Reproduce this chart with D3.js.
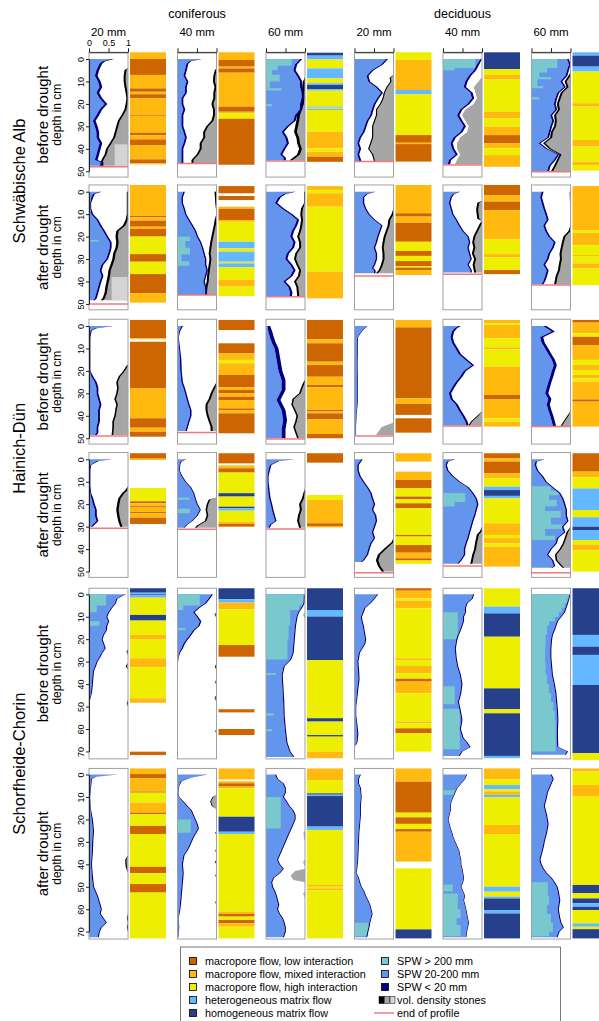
<!DOCTYPE html>
<html>
<head>
<meta charset="utf-8">
<script src="https://cdn.jsdelivr.net/npm/d3@7"></script>
<style>
body { margin: 0; background: #fff; }
text { font-family: "Liberation Sans", Arial, sans-serif; fill: #000; }
</style>
</head>
<body>
<svg width="599" height="1021"></svg>
<script>
var sites = ["Schwäbische Alb", "Hainich-Dün", "Schorfheide-Chorin"];
var states = ["before drought", "after drought"];
var forests = ["coniferous", "deciduous"];
var rainfall = ["20 mm", "40 mm", "60 mm"];

// flow type classes: L low, M mixed, H high interaction, E heterogeneous, O homogeneous
var flowNames = {
  L: "macropore flow, low interaction",
  M: "macropore flow, mixed interaction",
  H: "macropore flow, high interaction",
  E: "heterogeneous matrix flow",
  O: "homogeneous matrix flow"
};
var flowColors = { L: "#CD6600", M: "#FFB90F", H: "#EEEE00", E: "#63B8FF", O: "#27408B" };

// panels ordered row by row (site x drought state), columns: con 20/40/60, dec 20/40/60
// stained fraction SPW 20-200 mm (depth cm, fraction)
var spwEdge = [
  [[0,.57],[1,.35],[2,.27],[5,.19],[7.5,.15],[10,.23],[12.5,.27],[15,.19],[17.5,.27],[20,.4],[22.5,.27],[25,.19],[27.5,.1],[30,.15],[32.5,.19],[35,.19],[37.5,.27],[40,.23],[42.5,.19],[45,.15],[46,.3],[47.6,.3]],
  [[0,.57],[1,.3],[2,.23],[5,.19],[7.5,.15],[10,.23],[12.5,.19],[15,.19],[17.5,.1],[20,.1],[22.5,.15],[25,.1],[27.5,.1],[30,.1],[32.5,.15],[35,.19],[37.5,.15],[40,.1],[42.5,.1],[45,.1],[46.3,.1]],
  [[0,.87],[2.5,.74],[5,.7],[7.5,.79],[10,.87],[12.5,.87],[15,.91],[17.5,.91],[20,.87],[22.5,.87],[25,.74],[27.5,.7],[30,.53],[32.5,.4],[35,.49],[37.5,.53],[40,.44],[42.5,.36],[44,.45],[45.2,.45]],
  [[0,.81],[2.5,.68],[5,.44],[7.5,.31],[10,.35],[12.5,.54],[15,.68],[17.5,.58],[20,.49],[22.5,.44],[25,.4],[27.5,.31],[30,.26],[32.5,.21],[35,.12],[37.5,.07],[40,.12],[42.5,.07],[45,.12],[45.6,.12]],
  [[0,.96],[2.5,.87],[5,.79],[7.5,.66],[10,.57],[12.5,.53],[15,.7],[17.5,.74],[20,.62],[22.5,.44],[25,.36],[27.5,.44],[30,.53],[32.5,.44],[35,.27],[37.5,.19],[40,.23],[42.5,.32],[45,.15],[47,.12]],
  [[0,.91],[2.5,.96],[5,.91],[7.5,.87],[10,.74],[12.5,.83],[15,.66],[17.5,.61],[20,.57],[22.5,.61],[25,.48],[27.5,.53],[30,.48],[32.5,.44],[35,.4],[37.5,.18],[40,.36],[42.5,.66],[45,.57],[47.5,.44],[50,.4]],

  [[0,.27],[1,.1],[2.5,.06],[5,.03],[7.5,.03],[10,.06],[12.5,.19],[15,.27],[17.5,.36],[20,.44],[22.5,.53],[25,.53],[27.5,.49],[30,.44],[32.5,.32],[35,.27],[37.5,.32],[40,.27],[42.5,.23],[45,.19],[47.5,.15],[48.3,.1]],
  [[0,.15],[2.5,.1],[5,.1],[7.5,.15],[10,.19],[12.5,.27],[15,.36],[17.5,.44],[20,.49],[22.5,.57],[25,.62],[27.5,.66],[30,.7],[32.5,.7],[35,.74],[37.5,.7],[40,.66],[42.5,.7],[45,.72],[46,.7]],
  [[0,.7],[1,.45],[2.5,.32],[5,.23],[7.5,.4],[10,.62],[12.5,.79],[15,.74],[17.5,.66],[20,.62],[22.5,.7],[25,.66],[27.5,.53],[30,.49],[32.5,.62],[35,.7],[37.5,.62],[40,.44],[42.5,.57],[45,.62],[46.5,.6]],
  [[0,.49],[1,.3],[2.5,.21],[5,.21],[7.5,.26],[10,.35],[12.5,.49],[15,.68],[17.5,.63],[20,.58],[22.5,.54],[25,.49],[27.5,.54],[30,.54],[32.5,.49],[34,.44],[35,.5],[36.3,.5]],
  [[0,.4],[1,.25],[2.5,.19],[5,.15],[7.5,.19],[10,.23],[12.5,.32],[15,.4],[17.5,.49],[20,.62],[22.5,.66],[25,.62],[27.5,.66],[30,.7],[32.5,.62],[35,.7],[36,.7]],
  [[0,.26],[2.5,.22],[5,.26],[7.5,.3],[10,.35],[12.5,.39],[15,.3],[17.5,.35],[20,.43],[22.5,.57],[25,.52],[27.5,.43],[30,.39],[32.5,.3],[35,.39],[37.5,.35],[40,.3],[41.3,.25]],

  [[0,.57],[1,.15],[2,.04],[5,.02],[20,.02],[22.5,.06],[25,.15],[27.5,.19],[30,.19],[32.5,.23],[35,.27],[37.5,.23],[40,.23],[42.5,.23],[45,.19],[47.5,.19],[48.6,.15]],
  [[0,.1],[2.5,.04],[5,.02],[10,.04],[15,.06],[20,.07],[25,.1],[27.5,.15],[30,.19],[32.5,.23],[35,.27],[37.5,.32],[40,.32],[42.5,.27],[45,.23],[46.8,.2]],
  [[0,.04],[2.5,.06],[5,.1],[7.5,.15],[10,.22],[15,.27],[20,.32],[24,.4],[28.5,.4],[33,.27],[37.5,.4],[42,.44],[46,.4],[50,.4]],
  [[0,.31],[1,.25],[2.5,.17],[5,.07],[10,.07],[15,.06],[20,.06],[25,.07],[30,.07],[35,.06],[40,.04],[45,.03],[48.5,.03]],
  [[0,.4],[1,.3],[2.5,.23],[5,.19],[7.5,.23],[10,.32],[12.5,.4],[15,.57],[17.5,.74],[20,.53],[22.5,.44],[25,.32],[27.5,.23],[30,.15],[32.5,.19],[35,.32],[37.5,.4],[40,.49],[42.5,.57],[44.3,.6]],
  [[0,.3],[2.5,.52],[5,.22],[7.5,.26],[10,.35],[12.5,.43],[15,.52],[17.5,.57],[20,.52],[22.5,.48],[25,.43],[27.5,.39],[30,.35],[32.5,.43],[35,.39],[37.5,.43],[40,.48],[42.5,.52],[44.5,.55]],

  [[0,.53],[0.8,.2],[2.5,.03],[5,.02],[12,.02],[15,.03],[17.5,.06],[20,.1],[22.5,.15],[25,.15],[27.5,.19],[29,.1],[30,.05]],
  [[0,.19],[1,.08],[2,.05],[5,.04],[7.5,.1],[10,.19],[12.5,.32],[15,.4],[17.5,.44],[20,.49],[22.5,.57],[25,.49],[27.5,.36],[29,.23],[30.5,.15]],
  [[0,.7],[0.8,.3],[2.5,.1],[5,.06],[7.5,.04],[10,.04],[15,.06],[17.5,.08],[20,.12],[22.5,.15],[25,.19],[27.5,.23],[29,.1],[30.5,.06]],
  [[0,.17],[2.5,.07],[5,.07],[7.5,.12],[10,.21],[12.5,.31],[15,.4],[17.5,.44],[20,.49],[22.5,.44],[25,.52],[27.5,.54],[30,.49],[32.5,.44],[35,.49],[37.5,.4],[40,.35],[42.5,.31],[45,.21],[45.8,.15]],
  [[0,.27],[1,.1],[2.5,.06],[5,.1],[7.5,.23],[10,.4],[12.5,.62],[15,.74],[17.5,.83],[20,.87],[22.5,.83],[25,.79],[27.5,.74],[30,.7],[32.5,.66],[35,.62],[37.5,.57],[40,.53],[42.5,.53],[45,.44],[46.5,.36]],
  [[0,.3],[1,.1],[2.5,.08],[5,.13],[7.5,.26],[10,.35],[12.5,.52],[15,.7],[17.5,.78],[20,.83],[22.5,.87],[25,.87],[27.5,.91],[30,.78],[32.5,.83],[35,.65],[37.5,.61],[40,.48],[42.5,.39],[45,.52],[47.5,.57],[48.3,.5]],

  [[0,.91],[2,.7],[4,.66],[6,.57],[8,.49],[10,.44],[12,.49],[14,.44],[16,.43],[18,.36],[20,.32],[22,.36],[24,.4],[26,.32],[28,.26],[30,.19],[32,.15],[34,.1],[36,.09],[38,.08],[40,.07],[42,.06],[44,.05],[46,.03],[48,.01]],
  [[0,.87],[2,.79],[4,.7],[6,.53],[8,.4],[10,.49],[12,.57],[14,.53],[16,.4],[18,.32],[20,.23],[22,.15],[24,.1],[26,.04],[28,.02],[30,.01]],
  [[0,.98],[4,.96],[6,.9],[8,.82],[10,.78],[14,.74],[18,.72],[22,.7],[26,.68],[29,.62],[32,.45],[36,.4],[42,.42],[48,.44],[54,.45],[60,.48],[66,.52],[70,.6],[72.5,.7]],
  [[0,.58],[2,.49],[4,.39],[6,.25],[8,.21],[10,.16],[12,.18],[14,.21],[16,.23],[18,.25],[20,.27],[22,.25],[24,.18],[26,.11],[28,.09],[30,.07],[34,.09],[38,.1],[42,.07],[46,.05],[50,.03],[54,.03],[58,.05],[62,.07],[66,.05],[67.5,.02]],
  [[0,.77],[2,.73],[4,.6],[6,.56],[8,.56],[10,.51],[12,.51],[14,.47],[16,.43],[18,.38],[20,.34],[24,.3],[28,.32],[32,.36],[36,.43],[40,.47],[44,.44],[48,.38],[52,.43],[56,.47],[60,.43],[64,.5],[66,.6],[68,.68],[70,.47],[72,.4]],
  [[0,.98],[4,.91],[8,.83],[10,.74],[12,.65],[14,.61],[16,.57],[18,.52],[20,.5],[24,.48],[28,.48],[32,.5],[36,.52],[40,.57],[44,.61],[48,.63],[52,.65],[56,.66],[60,.65],[64,.65],[68,.66],[70,.91],[71.5,.85]],

  [[0,.7],[1,.15],[2,.05],[10,.02],[15,.03],[20,.07],[25,.1],[30,.08],[35,.07],[40,.05],[45,.07],[50,.1],[54,.2],[58,.27],[60,.3],[62,.27],[64,.35],[66,.43],[68,.3],[70,.25],[72.5,.22]],
  [[0,.74],[1.5,.3],[3,.08],[5,.03],[8,.02],[10,.03],[12,.13],[14,.23],[16,.34],[18,.39],[20,.44],[22,.49],[24,.52],[26,.46],[28,.39],[30,.34],[32,.29],[34,.23],[36,.15],[40,.11],[44,.13],[48,.11],[52,.09],[56,.07],[60,.05],[64,.02],[68,.03],[72.5,.02]],
  [[0,.23],[2,.28],[4,.43],[6,.48],[8,.48],[10,.43],[12,.51],[14,.58],[16,.68],[18,.73],[20,.73],[22,.68],[24,.63],[26,.58],[28,.53],[30,.48],[32,.43],[34,.38],[36,.33],[38,.28],[40,.33],[42,.43],[44,.33],[46,.18],[48,.13],[50,.15],[52,.21],[54,.25],[56,.28],[58,.31],[60,.28],[62,.33],[64,.41],[66,.45],[68,.48],[70,.48],[72.5,.43]],
  [[0,.14],[2,.09],[4,.09],[6,.14],[10,.16],[14,.14],[18,.14],[22,.12],[26,.1],[30,.09],[34,.08],[38,.07],[42,.05],[44,.04],[46,.09],[48,.12],[50,.16],[52,.23],[54,.27],[56,.33],[58,.38],[60,.41],[62,.44],[64,.41],[66,.38],[68,.36],[70,.33],[72.5,.3]],
  [[0,.6],[2,.55],[4,.45],[6,.35],[8,.3],[10,.25],[12,.2],[14,.18],[16,.18],[18,.15],[20,.12],[22,.15],[24,.18],[26,.22],[28,.25],[30,.3],[32,.35],[34,.4],[36,.42],[38,.45],[40,.45],[42,.48],[44,.5],[46,.52],[48,.5],[50,.45],[52,.5],[54,.55],[56,.52],[58,.55],[60,.58],[62,.6],[64,.62],[66,.65],[68,.62],[70,.6],[72.5,.58]],
  [[0,.49],[2,.54],[4,.49],[6,.44],[8,.39],[10,.37],[12,.34],[14,.31],[16,.34],[18,.37],[20,.39],[22,.41],[24,.39],[26,.37],[28,.34],[30,.31],[32,.29],[34,.26],[36,.23],[38,.2],[40,.23],[42,.29],[44,.37],[46,.49],[48,.57],[50,.64],[52,.67],[54,.69],[56,.71],[58,.69],[60,.67],[62,.69],[64,.71],[66,.74],[68,.8],[70,.69],[72.5,.64]]
];

// SPW > 200 mm, stepwise (value holds from depth to next depth)
var tealEdge = [
  null, null,
  [[0,.66],[3,.3],[5,.15],[7,.35],[10,.1],[13,.4],[14,0],[20,.15],[21,0]],
  null,
  [[0,.83],[4,.3],[5,0]],
  [[0,.66],[4,.4],[6,.2],[8,.5],[9,.15],[12,.3],[13,0],[17,.2],[18,0]],
  [[0,0],[21.5,.25],[22.2,0]],
  [[0,0],[20,.32],[22,.2],[25,.32],[28,.1],[31,.3],[33,0]],
  null, null, null, null,
  null, null, null, null, null, null,
  null,
  [[0,0],[17,.3],[18,0],[22,.32],[24,0]],
  null, null,
  [[0,0],[15,.57],[19,.3],[21,0]],
  [[0,0],[12,.5],[14,.7],[16,.45],[18,.65],[21,.35],[23,.75],[26,.5],[29,.8],[31,.35],[34,.6],[36,0]],
  [[0,.44],[5,.2],[8,0],[12,.27],[14,0]],
  [[0,.57],[5,.15],[7,0],[15,.2],[16,0]],
  [[0,.95],[5,.85],[7,.62],[14,.58],[20,.55],[29,0],[35,.25],[36,0],[53,.2],[54,0],[60,.15],[61,0]],
  null,
  [[0,0],[8,.38],[20,0],[41,.3],[49,0],[51,.43],[69,0]],
  [[0,.95],[2,.92],[4,.85],[6,.78],[8,.7],[10,.6],[12,.45],[14,.4],[18,.36],[24,.35],[30,.36],[36,.4],[40,.45],[44,.5],[48,.56],[52,.6],[56,.62],[68,.62],[70,0]],
  null,
  [[0,0],[20,.34],[26,0]],
  [[0,0],[10,.38],[24,0]],
  [[0,0],[66,.35],[72,0]],
  [[0,0],[7,.3],[9,0],[49,.25],[52,0],[53,.38],[60,.45],[64,.35],[67,.45],[72,0]],
  [[0,0],[48,.42],[54,.45],[58,.4],[62,.5],[66,.55],[70,.45],[72,0]]
];

// SPW < 20 mm band width at the stained front
var navyWidth = [
  .07, .05, .06, .05, .06, .05,
  .05, .04, .06, .04, .04, .05,
  .05, .04, .1, .02, .06, .08,
  .05, .03, .04, .04, .04, .04,
  .03, .04, .03, .03, .03, .03,
  .03, .03, .03, .025, .02, .03
];

// left edge of stones (fraction from left, 1 = no stones)
var stoneEdge = [
  [[0,1],[4,1],[5,.91],[7.5,.89],[10,.89],[12.5,.91],[15,.94],[17.5,.96],[20,.94],[22.5,.91],[25,.83],[27.5,.74],[30,.7],[32.5,.66],[35,.62],[37.5,.53],[40,.44],[42.5,.4],[45,.32],[46,.3],[47.6,.25]],
  [[0,1],[4,1],[5,.96],[7.5,.92],[10,.91],[12.5,.95],[15,.92],[17.5,.92],[20,.87],[22.5,.91],[25,.91],[27.5,.87],[30,.74],[32.5,.66],[35,.66],[37.5,.57],[40,.57],[42.5,.49],[45,.36],[46.3,.36]],
  [[0,1],[8,1],[10,.95],[12.5,.93],[15,.92],[17.5,.92],[20,.9],[22.5,.85],[25,.8],[27.5,.78],[30,.75],[32.5,.72],[35,.78],[37.5,.8],[40,.85],[42.5,.8],[45.2,.6]],
  [[0,1],[7,1],[8.5,.9],[10,.92],[12.5,.82],[15,.75],[17.5,.72],[20,.65],[22.5,.55],[25,.55],[27.5,.5],[30,.45],[32.5,.45],[35,.45],[37.5,.4],[40,.35],[42.5,.45],[45.6,.5]],
  [[0,1],[8,1],[10,.91],[12.5,.79],[15,.83],[17.5,.87],[20,.79],[22.5,.57],[25,.49],[27.5,.57],[30,.66],[32.5,.62],[35,.44],[37.5,.36],[40,.36],[42.5,.44],[45,.36],[47,.3]],
  [[0,1],[6,1],[7.5,.95],[10,.85],[12.5,.9],[15,.75],[17.5,.7],[20,.65],[22.5,.68],[25,.58],[27.5,.6],[30,.58],[32.5,.5],[35,.48],[37.5,.3],[40,.45],[42.5,.72],[45,.65],[47.5,.58],[50,.5]],

  [[0,.97],[10,.97],[12.5,.94],[15,.87],[17.5,.7],[20,.68],[22.5,.7],[25,.68],[27.5,.62],[30,.6],[32.5,.55],[35,.5],[37.5,.48],[40,.45],[42.5,.42],[45,.4],[47.5,.35],[48.3,.3]],
  [[0,.95],[5,.97],[10,1],[12,.96],[15,.93],[17.5,.9],[20,.87],[22.5,.84],[25,.82],[27.5,.8],[30,.82],[32.5,.8],[35,.78],[37.5,.76],[40,.75],[42.5,.72],[46,.7]],
  [[0,.98],[5,.98],[7.5,.9],[10,.88],[12.5,.9],[15,.88],[17.5,.85],[20,.8],[22.5,.85],[25,.85],[27.5,.75],[30,.72],[32.5,.78],[35,.85],[37.5,.82],[40,.72],[42.5,.78],[46.5,.8]],
  [[0,1],[7.5,1],[10,.95],[12.5,.87],[15,.85],[17.5,.8],[20,.75],[22.5,.72],[25,.7],[27.5,.72],[30,.72],[32.5,.68],[35,.62],[36.3,.55]],
  [[0,1],[4,1],[5,.88],[8,.85],[12,.88],[13,1],[14,.95],[15,.92],[17.5,.85],[20,.78],[22.5,.75],[25,.78],[27.5,.74],[30,.8],[32.5,.76],[36,.8]],
  [[0,.98],[15,1],[17.5,.95],[20,.82],[22.5,.78],[25,.75],[27.5,.72],[30,.73],[32.5,.7],[35,.68],[37.5,.62],[41.3,.58]],

  [[0,1],[17,1],[18,.95],[20,.88],[22.5,.76],[25,.7],[27.5,.72],[30,.7],[32.5,.65],[35,.7],[37.5,.67],[40,.65],[42.5,.6],[45,.6],[48.6,.58]],
  [[0,1],[25,1],[27.5,.92],[30,.85],[32.5,.8],[35,.72],[37.5,.72],[40,.75],[42.5,.8],[45,.85],[46.8,.85]],
  [[0,1],[24,1],[25,.96],[27.5,.9],[30,.85],[32.5,.68],[35,.65],[37.5,.72],[40,.78],[42.5,.75],[45,.7],[47.5,.75],[50,.8]],
  [[0,1],[43,1],[44,.85],[45,.7],[48.5,.55]],
  [[0,1],[38,1],[40,.88],[42.5,.72],[44.3,.65]],
  [[0,1],[38,1],[40,.92],[42.5,.82],[44.5,.75]],

  [[0,1],[12,1],[14,.92],[15,.85],[17.5,.75],[20,.72],[22.5,.7],[25,.72],[27.5,.75],[30,.8]],
  [[0,1],[17,1],[18,.8],[20,.75],[22.5,.72],[25,.75],[27.5,.7],[29.5,.5],[30.5,.45]],
  [[0,1],[13,1],[15,.96],[17.5,.92],[20,.85],[22.5,.87],[25,.82],[27.5,.8],[30.5,.85]],
  [[0,1],[35,1],[37,.95],[40,.75],[42.5,.6],[45,.55],[47.5,.6],[50,.7]],
  [[0,1],[30,1],[32,.95],[33.5,.87],[35,.85],[37.5,.82],[40,.8],[42.5,.75],[45,.72],[46.5,.7]],
  [[0,1],[30,1],[32.5,.9],[35,.85],[37.5,.8],[40,.72],[42.5,.6],[45,.62],[47.5,.75],[48.3,.8]],

  [[0,1],[24.5,1],[25.5,.96],[27,1],[30.5,1],[32,.94],[33.5,1],[47,1],[48.5,.97],[50,1]],
  [[0,1],[8,1],[9,.95],[10.5,1],[31,1],[32,.96],[34,1],[38,1],[39,.97],[41,1],[45,1],[46,.95],[48,1],[60,1],[61,.97],[62,1]],
  [[0,1],[8,1],[9,.95],[11,1]],
  [[0,1]],
  [[0,1]],
  [[0,1]],

  [[0,1],[36,1],[38,.93],[41,.94],[44,1],[62,1],[64,.97],[66,1],[68,.97],[70,1]],
  [[0,1],[9,1],[10,.9],[12,.84],[14,.88],[15.5,1],[25,1],[26,.97],[27,1],[33,1],[34,.97],[35,1],[38,1],[39,.96],[40,1],[44,1],[45,.97],[46,1],[56,1],[57,.97],[58,1]],
  [[0,1],[25,1],[26,.96],[28,.97],[30,1],[38,1],[39,.95],[41,1],[42,1],[43,.75],[45,.63],[47,.7],[48,1],[52,1],[53,.95],[55,1]],
  [[0,1]],
  [[0,1]],
  [[0,1]]
];

// width of the densest (black) stone class at the stone edge
var blackWidth = [
  .05, .05, .07, .03, 0, .05,
  .06, .05, .05, .05, .05, .05,
  .04, .05, .04, 0, .03, .03,
  .06, .04, .05, .06, .05, .04,
  .03, .02, 0, 0, 0, 0,
  .03, .02, 0, 0, 0, 0
];

// low density stones: [from depth, to depth, left edge]
var lightStone = [
  [38, 47.6, .66], null, null, null, null, null,
  [38, 48.3, .58], null, null, null, null, null,
  null, null, null, null, null, null,
  null, null, null, null, null, null,
  null, null, null, null, null, null,
  null, null, null, null, null, null
];

// depth of the end of profile (red line)
var profileEnd = [
  48, 46.5, 45.4, 45.7, 47.2, 50.2,
  50, 46, 46.8, 37.5, 36.8, 41.6,
  49, 47.4, 50.3, 49, 44.5, 44.8,
  30.7, 31.2, 31, 50.5, 47.5, 50.5,
  null, null, null, null, null, null,
  null, null, null, null, null, null
];

// flow type bands: [top cm, bottom cm, class]
var flowBands = [
  [[-3,0,"M"],[0,7.1,"L"],[7.1,13.1,"M"],[13.1,14.6,"L"],[14.6,15.7,"M"],[15.7,17.5,"L"],[17.5,24.9,"M"],[24.9,25.3,"L"],[25.3,32.8,"M"],[32.8,33.9,"L"],[33.9,35.8,"M"],[35.8,38.3,"L"],[38.3,44.7,"M"],[44.7,46.5,"L"],[46.5,46.9,"M"]],
  [[-3,.45,"M"],[.45,3.4,"L"],[3.4,4.2,"M"],[4.2,6.1,"L"],[6.1,21.2,"M"],[21.2,23.5,"L"],[23.5,24.2,"M"],[24.2,26.6,"H"],[26.6,47.1,"L"]],
  [[-2.8,-1.5,"O"],[-1.5,.2,"E"],[.2,4.2,"H"],[4.2,8.6,"E"],[8.6,10.8,"H"],[10.8,11.6,"E"],[11.6,13.5,"O"],[13.5,14.1,"E"],[14.1,21.2,"H"],[21.2,21.7,"E"],[21.7,22.2,"H"],[22.2,22.7,"E"],[22.7,32.4,"H"],[32.4,39.8,"M"],[39.8,41.3,"H"],[41.3,43.5,"M"],[43.5,45.8,"L"]],
  [[-3,.4,"H"],[.4,13.8,"M"],[13.8,15.7,"E"],[15.7,33.9,"H"],[33.9,37.3,"L"],[37.3,37.9,"M"],[37.9,45.7,"L"]],
  [[-3,4.5,"O"],[4.5,7.1,"H"],[7.1,9.1,"M"],[9.1,23.5,"H"],[23.5,26.4,"M"],[26.4,30.1,"H"],[30.1,33.9,"M"],[33.9,37.6,"L"],[37.6,39.8,"M"],[39.8,42.8,"H"],[42.8,48,"M"]],
  [[-3,-1.5,"E"],[-1.5,3.4,"O"],[3.4,5.6,"E"],[5.6,19.7,"H"],[19.7,21.2,"M"],[21.2,36.1,"H"],[36.1,39,"M"],[39,45.7,"H"],[45.7,47.2,"M"],[47.2,49.7,"H"]],

  [[-3,10.8,"M"],[10.8,11.4,"L"],[11.4,12.9,"M"],[12.9,15.6,"L"],[15.6,16.6,"M"],[16.6,20,"L"],[20,27.8,"H"],[27.8,31.2,"L"],[31.2,36.7,"H"],[36.7,45.3,"L"],[45.3,49.4,"M"]],
  [[-2.5,.7,"L"],[1.9,3.7,"L"],[6.7,7.6,"M"],[7.6,12.6,"L"],[12.6,13.4,"M"],[13.4,22.3,"H"],[22.3,25.2,"E"],[25.2,26.7,"H"],[26.7,31.2,"E"],[31.2,31.9,"H"],[31.9,33.7,"E"],[33.7,39.3,"H"],[39.3,42.3,"M"],[42.3,46.5,"H"]],
  [[-2.5,-.8,"M"],[-.8,.7,"H"],[.7,6.7,"M"],[6.7,35.6,"H"],[35.6,47.5,"M"]],
  [[-3,9.6,"M"],[9.6,11.1,"L"],[11.1,13.8,"M"],[13.8,22.3,"L"],[22.3,26.4,"H"],[26.4,28.6,"L"],[28.6,30.9,"H"],[30.9,33.1,"L"],[33.1,33.8,"H"],[33.8,34.9,"L"],[34.9,37.1,"M"]],
  [[-3,1.5,"L"],[1.5,4.4,"M"],[4.4,8.2,"L"],[8.2,21.2,"M"],[21.2,27.8,"H"],[27.8,29.2,"M"],[29.2,34.9,"H"],[34.9,36.7,"L"]],
  [[-2.5,17.1,"M"],[17.1,18.3,"H"],[18.3,23.8,"M"],[23.8,28.2,"H"],[28.2,28.9,"M"],[28.9,31.9,"H"],[31.9,34.1,"M"],[34.1,41.6,"H"]],

  [[-2.7,5.5,"L"],[5.5,5.9,"M"],[7,27.8,"L"],[27.8,41.1,"M"],[41.1,45.3,"L"],[45.3,47.1,"M"],[47.1,49.3,"L"]],
  [[-2.7,1.8,"L"],[7.7,12.2,"L"],[12.2,15.1,"M"],[15.1,16.6,"H"],[16.6,21.8,"M"],[21.8,27.3,"L"],[27.3,28.5,"M"],[28.5,30,"L"],[30,31.5,"M"],[31.5,33,"L"],[33,36.7,"M"],[36.7,37.4,"L"],[37.4,38.9,"M"],[38.9,47.8,"L"]],
  [[-2.7,5.9,"L"],[5.9,7.7,"M"],[7.7,15.9,"L"],[15.9,17.4,"M"],[17.4,22.6,"L"],[22.6,26.3,"M"],[26.3,27.3,"L"],[27.3,37.4,"M"],[37.4,38.1,"L"],[38.1,38.9,"M"],[38.9,41.6,"L"],[41.6,48.1,"M"],[48.1,50,"L"]],
  [[-2.7,.6,"M"],[.6,32.2,"L"],[32.2,34.7,"M"],[34.7,39.6,"L"],[41.1,47.5,"L"]],
  [[-2.7,-1.2,"M"],[-1.2,-.4,"H"],[-.4,5.5,"M"],[5.5,9.5,"H"],[9.5,10.4,"M"],[10.4,18.1,"H"],[18.1,30.7,"M"],[30.7,32.7,"L"],[32.7,41.1,"M"],[41.1,42.6,"H"],[42.6,44.8,"M"]],
  [[-2.7,-1.5,"L"],[-1.5,3.3,"M"],[3.3,4.8,"H"],[4.8,8.5,"L"],[8.5,15.1,"M"],[15.1,17.4,"H"],[17.4,19.6,"M"],[19.6,21.8,"H"],[21.8,23.3,"M"],[23.3,24.8,"H"],[24.8,32.7,"M"],[32.7,33.7,"L"],[33.7,44.8,"M"]],

  [[-2.7,-.3,"L"],[-.3,.3,"M"],[12.8,18.7,"H"],[18.7,19.6,"L"],[19.6,20.9,"M"],[20.9,21.5,"L"],[21.5,23.5,"M"],[23.5,24.1,"L"],[24.1,26,"M"],[26,28.8,"L"]],
  [[-2.7,1.8,"L"],[2.7,4,"M"],[4,5.9,"L"],[5.9,15.1,"H"],[15.1,16.6,"O"],[16.6,21.1,"H"],[21.1,21.8,"O"],[21.8,22.9,"E"],[22.9,27.8,"H"],[27.8,28.8,"M"],[28.8,30,"L"]],
  [[-2.7,1.5,"L"],[15.9,18.1,"H"],[18.1,28.5,"M"],[28.5,29.7,"L"],[29.7,30.3,"M"]],
  [[-2.7,1,"M"],[5.5,9.2,"M"],[9.2,12.9,"L"],[12.9,16.6,"H"],[16.6,17.7,"L"],[17.7,19.6,"H"],[19.6,21.8,"L"],[21.8,33.7,"H"],[33.7,34.4,"L"],[34.4,38.2,"H"],[38.2,41.6,"L"],[41.6,44.1,"M"],[44.1,45.1,"L"],[45.1,46.6,"H"]],
  [[-2.7,-.4,"L"],[-.4,1,"M"],[1,6.2,"L"],[6.2,8.5,"M"],[8.5,12.2,"H"],[12.2,13.7,"E"],[13.7,16.3,"O"],[16.3,17.4,"E"],[17.4,28.5,"H"],[28.5,33.7,"M"],[33.7,35.1,"H"],[35.1,37.4,"M"],[37.4,38.9,"H"],[38.9,47.8,"M"]],
  [[-2.7,5.5,"L"],[5.5,8,"M"],[8,13,"H"],[13,22.6,"E"],[22.6,25.8,"H"],[25.8,30,"E"],[30,31.5,"O"],[31.5,36,"E"],[36,38,"H"],[38,40.5,"M"],[40.5,50,"H"]],

  [[-2.7,-.7,"O"],[-.7,0,"E"],[0,.5,"O"],[.5,1.5,"E"],[1.5,9.2,"H"],[9.2,11.7,"O"],[11.7,18.1,"H"],[18.1,20,"M"],[20,28.5,"H"],[28.5,32.5,"M"],[32.5,46.3,"H"],[46.3,48.3,"M"],[70.1,71.6,"L"]],
  [[-2.7,2.2,"O"],[2.2,3.7,"E"],[3.7,6.7,"M"],[6.7,22.6,"H"],[22.6,27.8,"L"],[51.2,52.6,"L"],[60,62.7,"L"]],
  [[-2.7,7,"O"],[7,9.9,"E"],[9.9,29.3,"O"],[29.3,55.2,"H"],[55.2,56.7,"O"],[56.7,62.7,"H"],[62.7,63.4,"O"],[63.4,70.1,"H"],[70.1,73,"M"]],
  [[-2.7,-1.6,"L"],[-1.6,1.8,"M"],[1.8,2.8,"H"],[2.8,6.2,"M"],[6.2,28.5,"H"],[28.5,29.3,"M"],[29.3,31.9,"H"],[31.9,35.2,"M"],[35.2,37.6,"H"],[37.6,38.9,"L"],[38.9,44.1,"M"],[44.1,56.7,"H"],[56.7,57.5,"M"],[57.5,59.7,"H"],[59.7,61.9,"L"],[61.9,70.1,"H"]],
  [[-2.7,5.5,"H"],[5.5,8.5,"E"],[8.5,18.9,"O"],[18.9,41.9,"H"],[41.9,51.2,"O"],[51.2,53,"H"],[53,72,"O"],[72,73,"E"]],
  [[-2.7,18.1,"O"],[18.1,23.3,"E"],[23.3,27,"O"],[27,40.4,"E"],[40.4,70.8,"O"],[70.8,73.8,"H"]],

  [[-2.7,-.2,"M"],[-.2,1.7,"L"],[1.7,7.6,"M"],[7.6,8.1,"L"],[8.1,12.5,"H"],[12.5,17,"M"],[17,17.7,"L"],[17.7,22.9,"H"],[22.9,26.5,"L"],[26.5,41.1,"H"],[41.1,44,"L"],[44,48.8,"H"],[48.8,52.6,"L"],[52.6,73,"H"]],
  [[-2.7,2.2,"M"],[3,3.9,"M"],[3.9,5.4,"L"],[5.4,6.2,"M"],[6.2,18.8,"H"],[18.8,25.5,"O"],[25.5,26.5,"E"],[26.5,61.1,"H"],[61.1,62.1,"M"],[62.1,63.3,"L"],[63.3,64.8,"H"],[64.8,66.3,"L"],[66.3,67.8,"M"],[67.8,73,"H"]],
  [[-2.7,2.5,"M"],[2.5,8.4,"H"],[8.4,9,"O"],[9,9.6,"E"],[9.6,23.2,"O"],[23.2,24.7,"E"],[24.7,49.2,"H"],[49.2,50,"M"],[50,50.7,"H"],[50.7,51.5,"M"],[51.5,73,"H"]],
  [[-2.7,3.2,"M"],[3.2,17,"L"],[17,19.1,"H"],[19.1,22,"L"],[22,24.3,"H"],[24.3,25.5,"L"],[25.5,38.8,"M"],[41.8,69,"H"],[69,73,"O"]],
  [[-2.7,2.2,"M"],[2.2,4.7,"H"],[4.7,6.6,"E"],[6.6,7.6,"H"],[7.6,9.1,"M"],[9.1,10.2,"E"],[10.2,22.5,"H"],[22.5,26.5,"M"],[26.5,50,"H"],[50,52.2,"E"],[52.2,54.4,"H"],[54.4,55.2,"E"],[55.2,60.4,"O"],[60.4,61.9,"E"],[61.9,73,"O"]],
  [[-2.7,-1.3,"M"],[-1.3,4.7,"H"],[4.7,9.9,"M"],[9.9,49.2,"H"],[49.2,52.9,"O"],[52.9,55.2,"H"],[55.2,57.4,"O"],[57.4,58.9,"E"],[58.9,60.4,"O"],[60.4,66.3,"H"],[66.3,67.8,"E"],[67.8,68.9,"H"],[68.9,73,"O"]]
];

// layout
var rowY0 = [59, 191.7, 326, 459.3, 594.3, 774.5];
var rowSpan = [[-3, 52.6], [-3, 52.6], [-3, 52.6], [-3, 52.6], [-2.7, 73.3], [-2.7, 73.3]];
var rowMaxTick = [50, 50, 50, 50, 70, 70];
var pxPerCm = 2.245;
var boxW = 39, barGap = 2, barW = 36;
function colLeft(c) { return 89 + c * 88.5; }

var svg = d3.select("svg");
var defs = svg.append("defs");

function draw()
{
  for (var r = 0; r < 6; r++) {
    var y = d3.scaleLinear().domain(rowSpan[r])
      .range(rowSpan[r].map(d => rowY0[r] + d * pxPerCm));
    for (var c = 0; c < 6; c++) {
      drawPanel(r * 6 + c, r, c, y);
    }
    // depth axis
    var ya = d3.scaleLinear().domain([0, rowMaxTick[r]])
      .range([rowY0[r], rowY0[r] + rowMaxTick[r] * pxPerCm]);
    var ga = svg.append("g")
      .attr("transform", "translate(" + colLeft(0) + ",0)")
      .call(d3.axisLeft(ya).tickValues(d3.range(0, rowMaxTick[r] + 1, 10)).tickSize(3).tickSizeOuter(0));
    ga.selectAll("text")
      .attr("transform", "rotate(-90)")
      .attr("x", 0).attr("y", -5).attr("dy", 0)
      .attr("text-anchor", "middle")
      .style("font-size", "9px").style("font-family", "'Liberation Sans', Arial, sans-serif");
    ga.selectAll("path, line").attr("stroke", "#222");
  }

  // top axes
  for (var c = 0; c < 6; c++) {
    var xs = d3.scaleLinear().domain([0, 1]).range([colLeft(c), colLeft(c) + boxW]);
    var gt = svg.append("g")
      .attr("transform", "translate(0," + (rowY0[0] + rowSpan[0][0] * pxPerCm) + ")")
      .call(d3.axisTop(xs).tickValues([0, .5, 1]).tickSize(4).tickSizeOuter(0).tickPadding(2)
        .tickFormat(c == 0 ? (d => d) : () => ""));
    gt.selectAll("text").style("font-size", "9px").style("font-family", "'Liberation Sans', Arial, sans-serif");
    gt.selectAll("path, line").attr("stroke", "#222");
    svg.append("text").attr("x", colLeft(c) + boxW / 2).attr("y", 36)
      .attr("text-anchor", "middle").style("font-size", "11.5px").text(rainfall[c % 3]);
  }
  forests.forEach((f, i) => {
    svg.append("text").attr("x", colLeft(i * 3 + 1) + boxW / 2).attr("y", 17.5)
      .attr("text-anchor", "middle").style("font-size", "12.5px").text(f);
  });

  // row and site labels
  for (var r = 0; r < 6; r++) {
    var yc = rowY0[r] + (rowSpan[r][0] + rowSpan[r][1]) / 2 * pxPerCm;
    svg.append("text").attr("transform", "translate(47.5," + yc + ") rotate(-90)")
      .attr("text-anchor", "middle").style("font-size", "15px").text(states[r % 2]);
    svg.append("text").attr("transform", "translate(61," + yc + ") rotate(-90)")
      .attr("text-anchor", "middle").style("font-size", "12px").text("depth in cm");
  }
  sites.forEach((s, i) => {
    var top = rowY0[i * 2] + rowSpan[i * 2][0] * pxPerCm;
    var bot = rowY0[i * 2 + 1] + rowSpan[i * 2 + 1][1] * pxPerCm;
    svg.append("text").attr("transform", "translate(25," + (top + bot) / 2 + ") rotate(-90)")
      .attr("text-anchor", "middle").style("font-size", "16.5px").text(s);
  });

  drawLegend();
}

function drawPanel(p, r, c, y)
{
  var x = d3.scaleLinear().domain([0, 1]).range([colLeft(c), colLeft(c) + boxW]);
  var top = y(rowSpan[r][0]), bot = y(rowSpan[r][1]);
  var g = svg.append("g");

  defs.append("clipPath").attr("id", "clip" + p)
    .append("rect").attr("x", x(0)).attr("y", top).attr("width", boxW).attr("height", bot - top);
  g.append("rect").attr("x", x(0)).attr("y", top).attr("width", boxW).attr("height", bot - top).attr("fill", "#fff");
  var pg = g.append("g").attr("clip-path", "url(#clip" + p + ")");

  // stones
  var st = stoneEdge[p];
  pg.append("path").datum(st)
    .attr("d", d3.area().y(d => y(d[0])).x0(d => x(d[1])).x1(x(1)))
    .attr("fill", "#a6a6a6");
  if (lightStone[p]) {
    var ls = lightStone[p];
    pg.append("rect").attr("x", x(ls[2])).attr("y", y(ls[0]))
      .attr("width", x(1) - x(ls[2])).attr("height", y(ls[1]) - y(ls[0]))
      .attr("fill", "#d4d4d4");
  }
  if (blackWidth[p] > 0) {
    pg.append("path").datum(st)
      .attr("d", d3.area().y(d => y(d[0])).x0(d => x(d[1]))
        .x1(d => x(d[1] >= 1 ? 1 : Math.min(1, d[1] + blackWidth[p]))))
      .attr("fill", "#000");
  }

  // stained area
  var sp = spwEdge[p];
  pg.append("path").datum(sp)
    .attr("d", d3.area().y(d => y(d[0])).x0(x(0)).x1(d => x(d[1])))
    .attr("fill", "#6495ED");
  if (tealEdge[p]) {
    pg.append("path").datum(tealEdge[p])
      .attr("d", d3.area().curve(d3.curveStepBefore).y(d => y(d[0])).x0(x(0)).x1(d => x(d[1])))
      .attr("fill", "#79C8CD");
  }
  var nw = navyWidth[p];
  pg.append("path").datum(sp)
    .attr("d", d3.area().y(d => y(d[0])).x0(d => x(d[1]))
      .x1(d => x(Math.min(1, d[1] + nw * Math.min(1, d[1] / 0.06)))))
    .attr("fill", "#000080");

  if (profileEnd[p] != null) {
    g.append("line").attr("x1", x(0)).attr("x2", x(1))
      .attr("y1", y(profileEnd[p])).attr("y2", y(profileEnd[p]))
      .attr("stroke", "#F2787C").attr("stroke-width", 1.5);
  }
  g.append("rect").attr("x", x(0)).attr("y", top).attr("width", boxW).attr("height", bot - top)
    .attr("fill", "none").attr("stroke", "#a0a0a0").attr("stroke-width", 1);

  // flow type bar
  var bx = x(1) + barGap;
  g.selectAll("rect.band").data(flowBands[p]).enter()
    .append("rect").attr("class", "band")
    .attr("x", bx).attr("width", barW)
    .attr("y", d => y(d[0])).attr("height", d => y(d[1]) - y(d[0]))
    .attr("fill", d => flowColors[d[2]]);
}

function drawLegend()
{
  var lg = svg.append("g");
  lg.append("rect").attr("x", 180.5).attr("y", 947).attr("width", 380).attr("height", 90)
    .attr("fill", "#fff").attr("stroke", "#777").attr("stroke-width", 1);
  var rowsY = [961, 974, 987, 1000, 1013];
  var keys = ["L", "M", "H", "E", "O"];
  keys.forEach((k, i) => {
    lg.append("rect").attr("x", 189.5).attr("y", rowsY[i] - 3.5).attr("width", 7).attr("height", 7)
      .attr("fill", flowColors[k]).attr("stroke", "#000").attr("stroke-width", .8);
    lg.append("text").attr("x", 205).attr("y", rowsY[i] + 3.8).style("font-size", "10.8px").text(flowNames[k]);
  });
  var spw = [["SPW > 200 mm", "#79C8CD"], ["SPW 20-200 mm", "#6495ED"], ["SPW < 20 mm", "#000080"]];
  spw.forEach((s, i) => {
    lg.append("rect").attr("x", 381.5).attr("y", rowsY[i] - 3.5).attr("width", 7).attr("height", 7)
      .attr("fill", s[1]).attr("stroke", "#000").attr("stroke-width", .8);
    lg.append("text").attr("x", 397).attr("y", rowsY[i] + 3.8).style("font-size", "10.8px").text(s[0]);
  });
  ["#000", "#a6a6a6", "#d4d4d4"].forEach((col, i) => {
    lg.append("rect").attr("x", 379 + i * 5.5).attr("y", rowsY[3] - 3.5).attr("width", 5).attr("height", 7)
      .attr("fill", col).attr("stroke", "#000").attr("stroke-width", .5);
  });
  lg.append("text").attr("x", 397).attr("y", rowsY[3] + 3.8).style("font-size", "10.8px").text("vol. density stones");
  lg.append("line").attr("x1", 374).attr("x2", 394).attr("y1", rowsY[4]).attr("y2", rowsY[4])
    .attr("stroke", "#F2787C").attr("stroke-width", 1.5);
  lg.append("text").attr("x", 397).attr("y", rowsY[4] + 3.8).style("font-size", "10.8px").text("end of profile");
}

draw();
</script>
</body>
</html>
